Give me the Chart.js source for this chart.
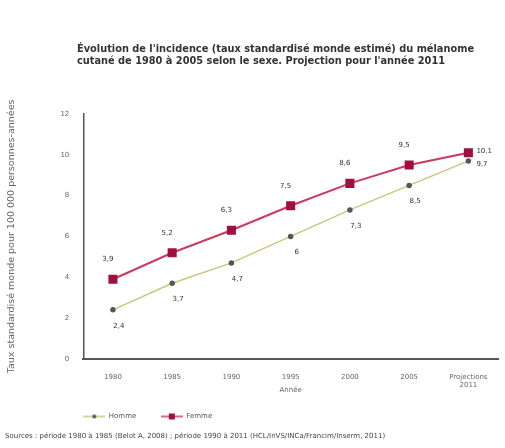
<!DOCTYPE html>
<html>
<head>
<meta charset="utf-8">
<script src="https://cdn.jsdelivr.net/npm/chart.js@4/dist/chart.umd.min.js"></script>
<style>
  html, body { margin: 0; padding: 0; background: #fff; }
  #wrap { position: relative; width: 505px; height: 448px; }
  #chart { position: absolute; left: 0; top: 0; }
  #title {
    position: absolute; left: 77px; top: 43px;
    font: bold 9.8px "DejaVu Sans", sans-serif; color: #333;
    line-height: 12px; white-space: nowrap;
  }
  #source {
    position: absolute; left: 5px; top: 432px;
    font: 7px "DejaVu Sans", sans-serif; color: #444;
    white-space: nowrap;
  }
</style>
</head>
<body>
<div id="wrap">
  <canvas id="chart" width="505" height="448"></canvas>
  <div id="title"></div>
  <div id="source">Sources : période 1980 à 1985 (Belot A, 2008) ; période 1990 à 2011 (HCL/InVS/INCa/Francim/Inserm, 2011)</div>
</div>
<script>
const years = ["1980", "1985", "1990", "1995", "2000", "2005", ["Projections", "2011"]];
const homme = [2.4, 3.7, 4.7, 6, 7.3, 8.5, 9.7];
const femme = [3.9, 5.2, 6.3, 7.5, 8.6, 9.5, 10.1];
const titleLines = [
  "Évolution de l'incidence (taux standardisé monde estimé) du mélanome",
  "cutané de 1980 à 2005 selon le sexe. Projection pour l'année 2011"
];

document.getElementById("title").innerHTML = titleLines.join("<br>");

const fmt = (v) => String(v).replace(".", ",");

// small line + marker picture for the legend
function legendIcon(lineColor, markColor, square) {
  const c = document.createElement("canvas");
  c.width = 22;
  c.height = 8;
  const g = c.getContext("2d");
  g.strokeStyle = lineColor;
  g.lineWidth = 1.5;
  g.beginPath();
  g.moveTo(0, 4);
  g.lineTo(22, 4);
  g.stroke();
  g.fillStyle = markColor;
  if (square) {
    g.fillRect(8, 1, 6, 6);
  } else {
    g.beginPath();
    g.arc(11, 4, 2, 0, Math.PI * 2);
    g.fill();
  }
  return c;
}

// draws the value next to each point, femme above, homme below
const valueLabels = {
  id: "valueLabels",
  afterDatasetsDraw(chart) {
    const ctx = chart.ctx;
    ctx.save();
    ctx.font = "7px 'DejaVu Sans', sans-serif";
    ctx.fillStyle = "#333";
    chart.data.datasets.forEach((ds, di) => {
      const meta = chart.getDatasetMeta(di);
      meta.data.forEach((pt, i) => {
        const last = i === ds.data.length - 1;
        let x = pt.x, y = pt.y;
        ctx.textBaseline = "middle";
        if (last) {
          ctx.textAlign = "left";
          x += 8;
          y += di === 1 ? -2 : 3;
        } else {
          ctx.textAlign = "center";
          x += di === 1 ? -5 : 6;
          y += di === 1 ? -20 : 16;
        }
        ctx.fillText(fmt(ds.data[i]), x, y);
      });
    });
    ctx.restore();
  }
};

const hommeIcon = legendIcon("#c9c77a", "#555", false);
const femmeIcon = legendIcon("#cc3a5e", "#a0103e", true);

new Chart(document.getElementById("chart"), {
  type: "line",
  data: {
    labels: years,
    datasets: [
      {
        label: "Homme",
        data: homme,
        borderColor: "#c9c77a",
        pointBackgroundColor: "#555",
        pointBorderColor: "#555",
        pointRadius: 2,
        pointStyle: "circle",
        borderWidth: 1.5,
        tension: 0
      },
      {
        label: "Femme",
        data: femme,
        borderColor: "#cc3a5e",
        pointBackgroundColor: "#a0103e",
        pointBorderColor: "#a0103e",
        pointRadius: 5,
        pointStyle: "rect",
        borderWidth: 2,
        tension: 0
      }
    ]
  },
  options: {
    responsive: false,
    animation: false,
    layout: { padding: { left: 6, right: 5, top: 114, bottom: 18 } },
    plugins: {
      title: { display: false },
      legend: {
        position: "bottom",
        align: "start",
        fullSize: false,
        labels: {
          usePointStyle: true,
          pointStyleWidth: 22,
          generateLabels: () => [
            { text: "Homme\u2002\u2002\u2002\u2002\u2002\u2002\u2002", pointStyle: hommeIcon, fillStyle: "#fff", strokeStyle: "#fff", lineWidth: 0, datasetIndex: 0, fontColor: "#555" },
            { text: "Femme", pointStyle: femmeIcon, fillStyle: "#fff", strokeStyle: "#fff", lineWidth: 0, datasetIndex: 1, fontColor: "#555" }
          ],
          color: "#555",
          font: { family: "'DejaVu Sans', sans-serif", size: 7 },
          padding: 0
        }
      },
      tooltip: { enabled: false }
    },
    scales: {
      x: {
        offset: true,
        grid: { display: false, drawTicks: false },
        border: { color: "#555", width: 2 },
        ticks: {
          color: "#666",
          font: { family: "'DejaVu Sans', sans-serif", size: 7 },
          padding: 14,
          maxRotation: 0
        },
        title: {
          display: true,
          text: "Année",
          color: "#666",
          font: { family: "'DejaVu Sans', sans-serif", size: 7 },
          padding: { top: -18, bottom: 19 }
        }
      },
      y: {
        min: 0,
        max: 12,
        grid: { display: false, drawTicks: false },
        border: { color: "#555", width: 1.5 },
        ticks: {
          stepSize: 2,
          color: "#666",
          font: { family: "'DejaVu Sans', sans-serif", size: 7 },
          padding: 14
        },
        title: {
          display: true,
          text: "Taux standardisé monde pour 100 000 personnes-années",
          color: "#666",
          font: { family: "'DejaVu Sans', sans-serif", size: 9.5 },
          padding: { top: 0, bottom: 29 }
        }
      }
    }
  },
  plugins: [valueLabels]
});
</script>
</body>
</html>
